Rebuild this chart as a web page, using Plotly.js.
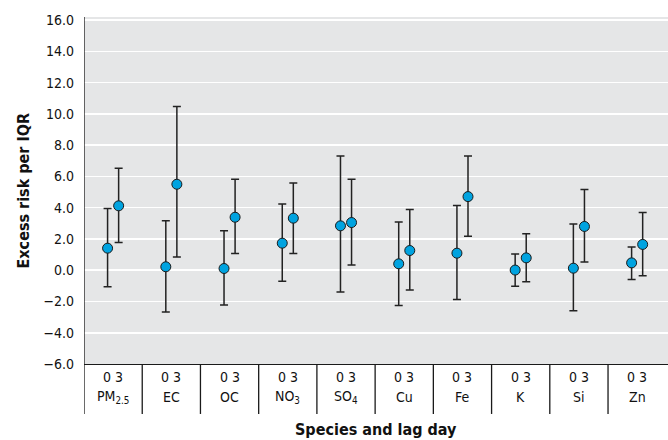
<!DOCTYPE html>
<html>
<head>
<meta charset="utf-8">
<script src="https://cdn.plot.ly/plotly-3.0.1.min.js"></script>
<style>
  html, body { margin: 0; padding: 0; background: #ffffff; }
  #chart { width: 668px; height: 440px; }
</style>
</head>
<body>
<div id="chart"></div>
<script>
// Species (categories) and lag-day labels
const species = ['PM<sub>2.5</sub>', 'EC', 'OC', 'NO<sub>3</sub>', 'SO<sub>4</sub>', 'Cu', 'Fe', 'K', 'Si', 'Zn'];
const lagLabel = '0 3';

// Lag 0 estimates and 95% CI
const lag0 = [1.41, 0.22, 0.11, 1.73, 2.84, 0.41, 1.09, 0.01, 0.13, 0.47];
const lag0Upper = [3.95, 3.16, 2.52, 4.24, 7.31, 3.09, 4.14, 1.03, 2.95, 1.48];
const lag0Lower = [-1.06, -2.68, -2.23, -0.70, -1.40, -2.25, -1.87, -1.02, -2.59, -0.59];

// Lag 3 estimates and 95% CI
const lag3 = [4.12, 5.50, 3.39, 3.33, 3.05, 1.26, 4.71, 0.79, 2.80, 1.65];
const lag3Upper = [6.52, 10.47, 5.82, 5.58, 5.82, 3.88, 7.31, 2.33, 5.16, 3.69];
const lag3Lower = [1.77, 0.84, 1.07, 1.07, 0.33, -1.27, 2.18, -0.74, 0.52, -0.36];

// Y-axis ticks
const yTickVals = [-6, -4, -2, 0, 2, 4, 6, 8, 10, 12, 14, 16];

const FONT = 'DejaVu Sans Condensed, Liberation Sans Narrow, Arial Narrow, sans-serif';
const OFFSET = 0.095;
const idx = species.map((_, i) => i);

function makeTrace(vals, upper, lower, shift) {
  return {
    type: 'scatter',
    mode: 'markers',
    x: idx.map(i => i + shift),
    y: vals,
    error_y: {
      type: 'data',
      symmetric: false,
      array: vals.map((v, i) => upper[i] - v),
      arrayminus: vals.map((v, i) => v - lower[i]),
      color: '#222222',
      thickness: 1.5,
      width: 4
    },
    marker: { size: 10, color: '#00a3e0', line: { color: '#1a1a1a', width: 1 } },
    hoverinfo: 'skip',
    showlegend: false
  };
}

const traces = [
  makeTrace(lag0, lag0Upper, lag0Lower, -OFFSET),
  makeTrace(lag3, lag3Upper, lag3Lower, OFFSET)
];

const annotations = [];
species.forEach((s, i) => {
  annotations.push({
    x: i, y: 0, xref: 'x', yref: 'paper', text: lagLabel, showarrow: false,
    yanchor: 'middle', xanchor: 'center', yshift: -13,
    font: { family: FONT, size: 14, color: '#111' }
  });
  annotations.push({
    x: i, y: 0, xref: 'x', yref: 'paper', text: s, showarrow: false,
    yanchor: 'middle', xanchor: 'center', yshift: -33,
    font: { family: FONT, size: 14, color: '#111' }
  });
});
annotations.push({
  x: 0.5, y: 0, xref: 'paper', yref: 'paper', text: '<b>Species and lag day</b>',
  showarrow: false, yanchor: 'middle', xanchor: 'center', yshift: -65,
  font: { family: FONT, size: 16, color: '#111' }
});
annotations.push({
  x: 0, y: 0.5, xref: 'paper', yref: 'paper', text: '<b>Excess risk per IQR</b>',
  showarrow: false, textangle: -90, yanchor: 'middle', xanchor: 'center', xshift: -61,
  font: { family: FONT, size: 16, color: '#111' }
});

const shapes = [];
// table dividers below the axis (left edge runs up the full y axis)
for (let k = 0; k < species.length; k++) {
  shapes.push({
    type: 'line', xref: 'x', yref: 'paper',
    x0: k - 0.5, x1: k - 0.5, y0: -0.144, y1: k === 0 ? 1 : 0,
    line: { color: '#1a1a1a', width: 1.3 }
  });
}

const layout = {
  width: 668, height: 440,
  margin: { l: 84, r: 0, t: 17, b: 76 },
  paper_bgcolor: '#ffffff',
  plot_bgcolor: '#e5e6e7',
  font: { family: FONT, size: 14, color: '#111' },
  xaxis: {
    range: [-0.5, 9.53],
    showgrid: false, zeroline: false,
    showticklabels: false, ticks: '',
    showline: true, linecolor: '#1a1a1a', linewidth: 1.3
  },
  yaxis: {
    range: [-6, 16.2],
    tickvals: yTickVals,
    tickformat: '.1f',
    showgrid: true, gridcolor: '#ffffff', gridwidth: 1.6,
    zeroline: false,
    showline: false,
    ticks: '',
    ticklabelstandoff: 9,
    tickfont: { family: FONT, size: 14, color: '#111' }
  },
  annotations: annotations,
  shapes: shapes
};

Plotly.newPlot('chart', traces, layout, { staticPlot: true, displayModeBar: false });
</script>
</body>
</html>
